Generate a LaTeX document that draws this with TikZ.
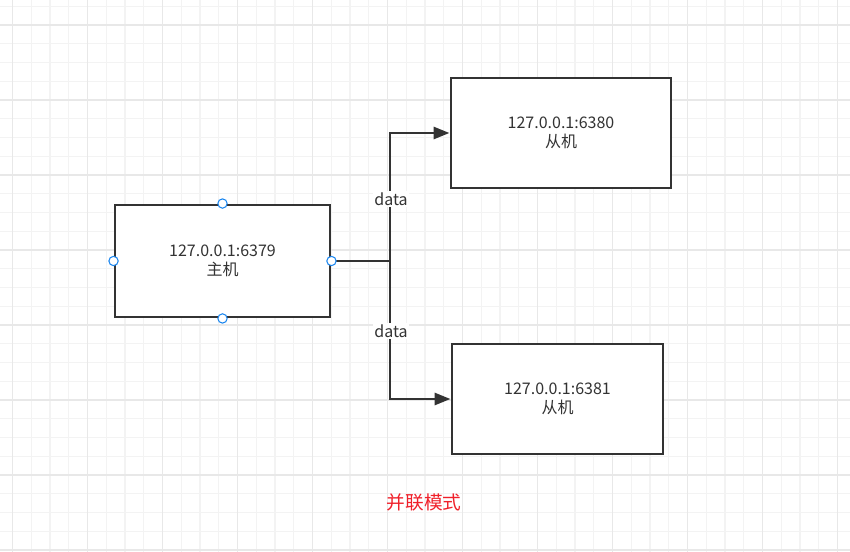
\documentclass[tikz,border=0pt]{standalone}
\usepackage{fontspec}
\setmainfont{Noto Sans CJK SC}
\usetikzlibrary{arrows.meta}
\definecolor{minorgrid}{HTML}{F3F3F3}
\definecolor{majorgrid}{HTML}{E8E8E8}
\definecolor{ink}{HTML}{333333}
\definecolor{handle}{HTML}{1E88F0}
\definecolor{redtxt}{HTML}{F0202A}
\tikzset{
  boxnode/.style={draw=ink, line width=2.2pt, fill=white, align=center, text=ink,
    font=\fontsize{12pt}{14.5pt}\selectfont, inner sep=0pt},
  linkline/.style={draw=ink, line width=2.2pt},
  tipline/.style={linkline, -{Triangle[length=12pt, width=9pt]}},
  datalabel/.style={fill=white, text=ink, font=\fontsize{12pt}{13pt}\selectfont, inner sep=1pt},
  handledot/.style={circle, draw=handle, fill=white, line width=0.8pt, minimum size=7pt, inner sep=0pt},
  minorline/.style={draw=minorgrid, line width=1pt},
  majorline/.style={draw=majorgrid, line width=1pt}
}
\begin{document}
\begin{tikzpicture}[x=0.75pt, y=-0.75pt]
\useasboundingbox (0,0) rectangle (850,552);
\fill[white] (0,0) rectangle (850,552);
% grid
\foreach \k in {0,...,44} { \draw[minorline] ({12.5+18.75*\k},0) -- ({12.5+18.75*\k},552); }
\foreach \k in {0,...,29} { \draw[minorline] (0,{6.25+18.75*\k}) -- (850,{6.25+18.75*\k}); }
\foreach \k in {0,...,11} { \draw[majorline] ({12.5+75*\k},0) -- ({12.5+75*\k},552); }
\foreach \k in {0,...,7} { \draw[majorline] (0,{25+75*\k}) -- (850,{25+75*\k}); }
% boxes
\node[boxnode, minimum width=161.25pt, minimum height=84pt] (master) at (222.5,261) {127.0.0.1:6379\\主机};
\node[boxnode, minimum width=165pt, minimum height=82.5pt] (slaveA) at (561,133) {127.0.0.1:6380\\从机};
\node[boxnode, minimum width=158.25pt, minimum height=82.5pt] (slaveB) at (557.5,399) {127.0.0.1:6381\\从机};
% connectors
\coordinate (junction) at (390,261);
\draw[linkline] (master.east) -- (junction);
\draw[tipline] (junction) |- (slaveA.west);
\draw[tipline] (junction) |- (slaveB.west);
\node[datalabel] (labA) at (391,199) {data};
\node[datalabel] (labB) at (391,331) {data};
% handles
\node[handledot] (hN) at (master.north) {};
\node[handledot] (hS) at (master.south) {};
\node[handledot] (hW) at (master.west) {};
\node[handledot] (hE) at (master.east) {};
% caption
\node[text=redtxt, font=\fontsize{14pt}{16pt}\selectfont] (caption) at (424,502) {并联模式};
\end{tikzpicture}
\end{document}
